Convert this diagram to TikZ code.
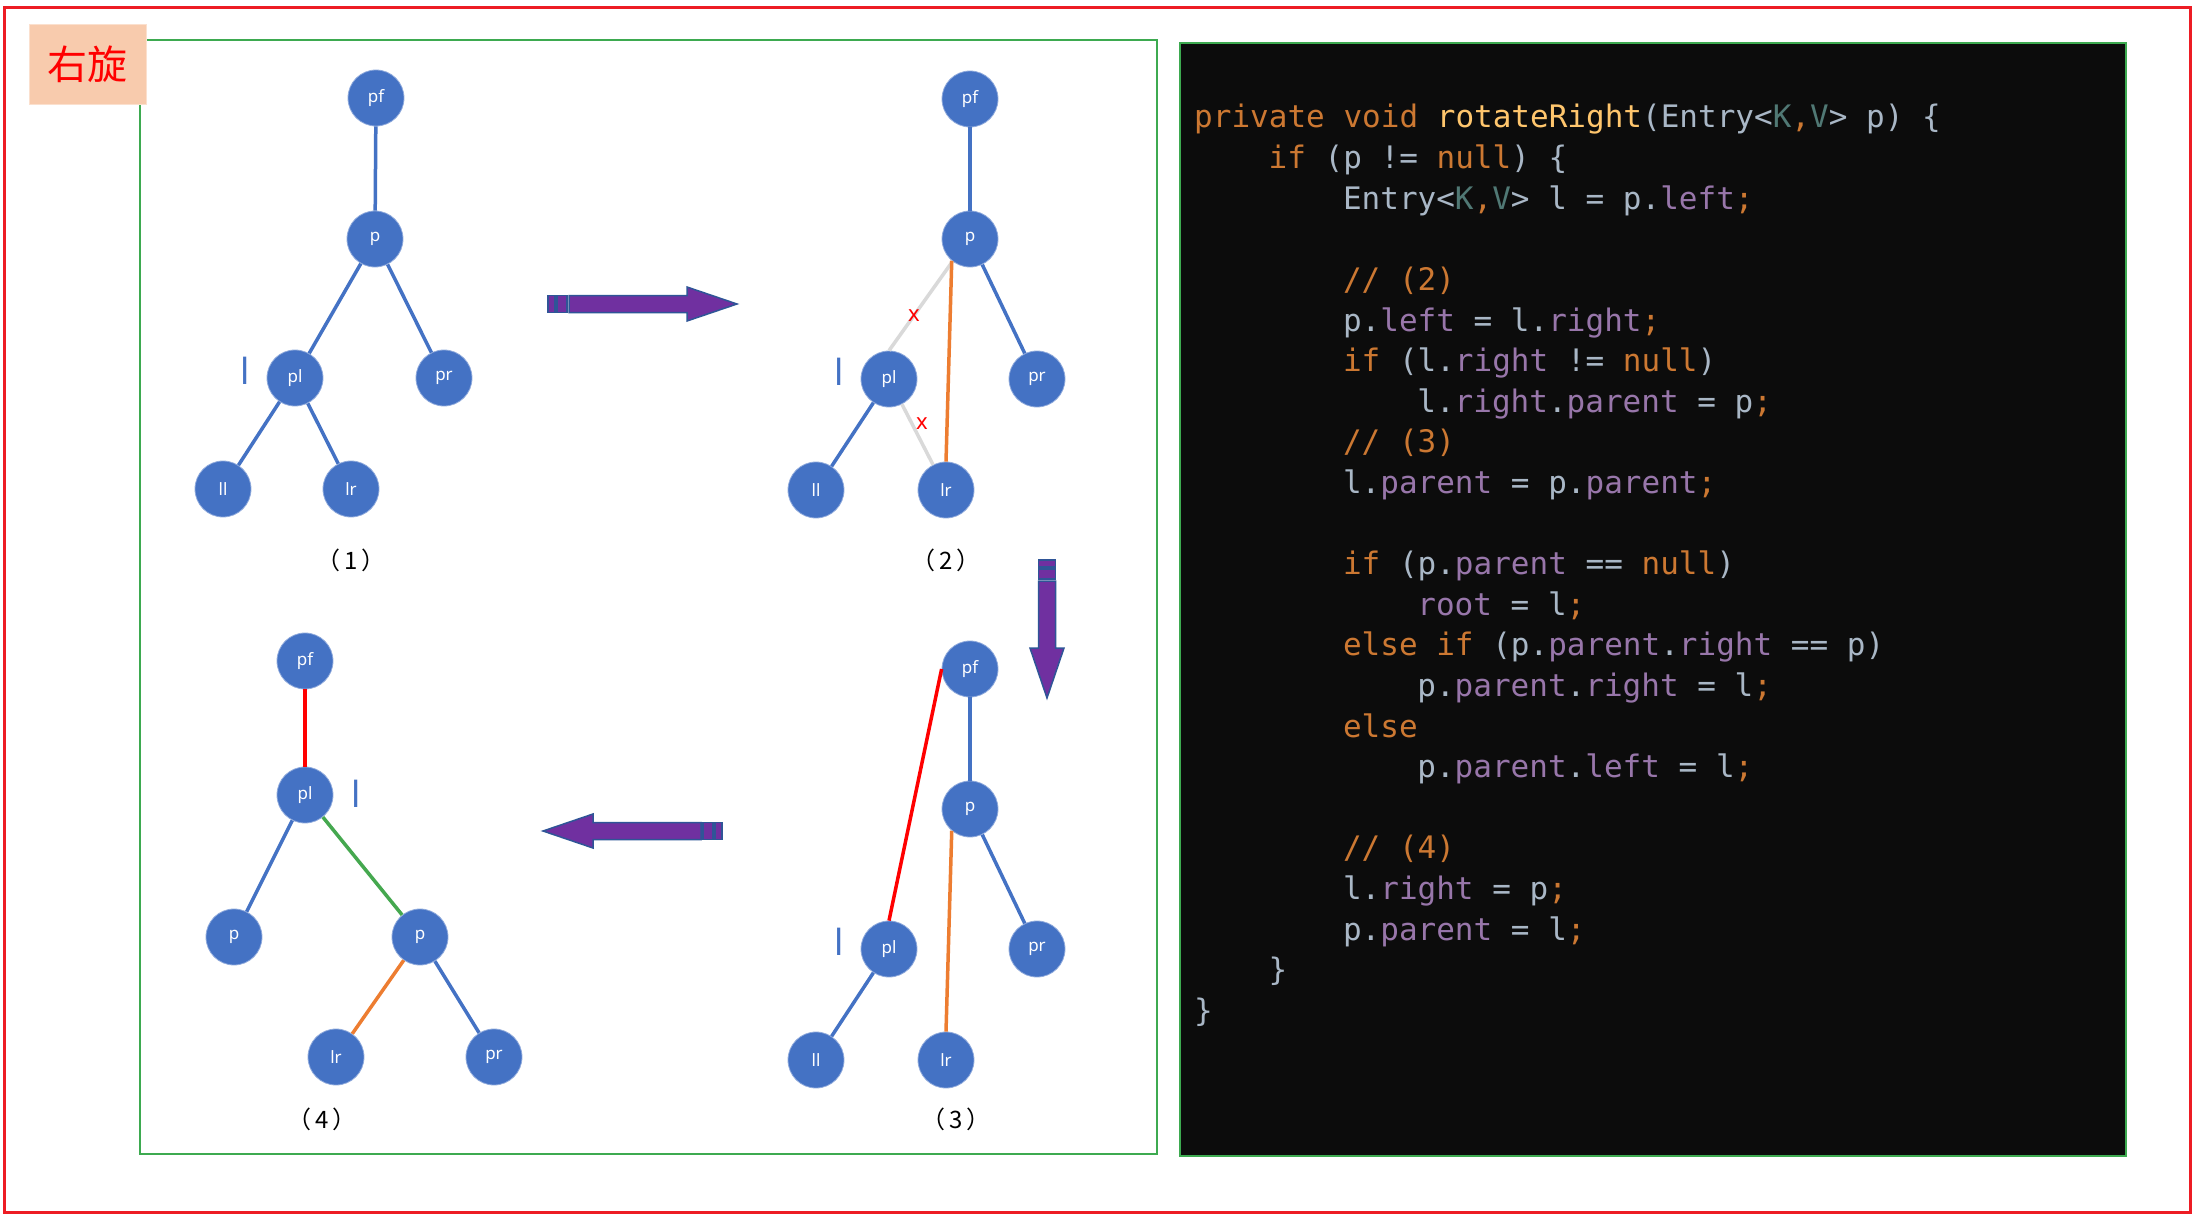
\documentclass[tikz,border=0pt]{standalone}
\usepackage{fontspec}
\setmainfont{Noto Sans}
\newfontfamily\cjk{Noto Sans CJK SC}
\newfontfamily\codefont{DejaVu Sans Mono}

\definecolor{nodeblue}{HTML}{4472C4}
\definecolor{cutgray}{HTML}{D9D9D9}
\definecolor{linkorange}{HTML}{ED7D31}
\definecolor{linkred}{HTML}{FF0000}
\definecolor{linkgreen}{HTML}{45A84F}
\definecolor{framered}{HTML}{ED1C24}
\definecolor{framegreen}{HTML}{3DAA50}
\definecolor{titlefill}{HTML}{F8CBAD}
\definecolor{arrowfill}{HTML}{7030A0}
\definecolor{arrowline}{HTML}{2F5597}
\definecolor{codebg}{HTML}{0C0C0C}
\definecolor{codetext}{HTML}{A9B7C6}
\definecolor{kwcol}{HTML}{CC7832}
\definecolor{mthcol}{HTML}{FFC66D}
\definecolor{fieldcol}{HTML}{9876AA}
\definecolor{gencol}{HTML}{507874}

\newcommand\kw[1]{\textcolor{kwcol}{#1}}
\newcommand\fd[1]{\textcolor{fieldcol}{#1}}
\newcommand\gn[1]{\textcolor{gencol}{#1}}
\newcommand\semi{\textcolor{kwcol}{;}}
\newcommand\steptext[1]{（\kern4pt#1\kern4pt）}
\newcommand\fatarrow[1]{%
  \filldraw[fill=arrowfill, draw=arrowline, line width=1.5pt] (0,-8.5) rectangle (7,8.5);
  \filldraw[fill=arrowfill, draw=arrowline, line width=1.5pt] (9,-8.5) rectangle (19,8.5);
  \filldraw[fill=arrowfill, draw=arrowline, line width=1.5pt, line join=miter]
    (21,-8.5) -- ({#1-50},-8.5) -- ({#1-50},-17) -- (#1,0) -- ({#1-50},17) -- ({#1-50},8.5) -- (21,8.5) -- cycle;
}

\tikzset{
  tnode/.style={circle, fill=nodeblue, draw=nodeblue!60!white, line width=0.8pt,
    minimum size=56pt, inner sep=0pt, text=white, font=\fontsize{17}{20}\selectfont},
  blueline/.style={draw=nodeblue, line width=3.5pt},
  grayline/.style={draw=cutgray, line width=3.5pt},
  orangeline/.style={draw=linkorange, line width=3.5pt},
  redline/.style={draw=linkred, line width=3.5pt},
  greenline/.style={draw=linkgreen, line width=3.5pt},
  lmark/.style={text=nodeblue, inner sep=0pt, font=\fontsize{36}{40}\selectfont},
  cutmark/.style={text=linkred, inner sep=0pt, font=\fontsize{22}{24}\selectfont},
  steplabel/.style={inner sep=0pt, font=\cjk\fontsize{24}{28}\selectfont},
  codeline/.style={anchor=base west, inner sep=0pt, text=codetext,
    font=\codefont\fontsize{31}{36}\selectfont},
}

\begin{document}
\begin{tikzpicture}[x=1pt,y=-1pt]
\useasboundingbox (0,0) rectangle (2195,1217);
\fill[white] (0,0) rectangle (2195,1217);

% frames
\draw[framered, line width=3pt] (4.5,7.5) rectangle (2190,1212);
\draw[framegreen, line width=1.5pt] (140,40) rectangle (1157,1154);
\node (title) [fill=titlefill, draw=titlefill!60!white, line width=0.8pt,
  minimum width=117pt, minimum height=80pt, text=linkred,
  font=\cjk\fontsize{40}{44}\selectfont] at (87.5,64) {右旋};

% (1)
\node[tnode] (pf1) at (376,98) {pf};
\node[tnode] (p1) at (375,239) {p};
\node[tnode] (pl1) at (295,378) {pl};
\node[tnode] (pr1) at (444,378) {pr};
\node[tnode] (ll1) at (223,489) {ll};
\node[tnode] (lr1) at (351,489) {lr};
\node[lmark] (l1) at (245,371) {l};
\node[steplabel] (step1) at (351,560) {\steptext{1}};
\draw[blueline] (pf1) -- (p1);
\draw[blueline] (p1) -- (pl1);
\draw[blueline] (p1) -- (pr1);
\draw[blueline] (pl1) -- (ll1);
\draw[blueline] (pl1) -- (lr1);

% (2)
\node[tnode] (pf2) at (970,99) {pf};
\node[tnode] (p2) at (970,239) {p};
\node[tnode] (pl2) at (889,379) {pl};
\node[tnode] (pr2) at (1037,379) {pr};
\node[tnode] (ll2) at (816,490) {ll};
\node[tnode] (lr2) at (946,490) {lr};
\node[lmark] (l2) at (839,372) {l};
\node[steplabel] (step2) at (946,560) {\steptext{2}};
\draw[blueline] (pf2) -- (p2);
\draw[grayline] (p2.232) -- (pl2.north);
\draw[blueline] (p2) -- (pr2);
\draw[blueline] (pl2) -- (ll2);
\draw[grayline] (pl2) -- (lr2);
\draw[orangeline] (p2.230) -- (lr2.north);
\node[cutmark] (x1) at (914,316) {x};
\node[cutmark] (x2) at (922,424) {x};

% (3)
\node[tnode] (pf3) at (970,669) {pf};
\node[tnode] (p3) at (970,809) {p};
\node[tnode] (pl3) at (889,949) {pl};
\node[tnode] (pr3) at (1037,949) {pr};
\node[tnode] (ll3) at (816,1060) {ll};
\node[tnode] (lr3) at (946,1060) {lr};
\node[lmark] (l3) at (839,942) {l};
\node[steplabel] (step3) at (956,1119) {\steptext{3}};
\draw[blueline] (pf3) -- (p3);
\draw[redline] (pf3.west) -- (pl3.north);
\draw[blueline] (p3) -- (pr3);
\draw[blueline] (pl3) -- (ll3);
\draw[orangeline] (p3.230) -- (lr3.north);

% (4)
\node[tnode] (pf4) at (305,661) {pf};
\node[tnode] (pl4) at (305,795) {pl};
\node[tnode] (pa4) at (234,937) {p};
\node[tnode] (pb4) at (420,937) {p};
\node[tnode] (lr4) at (336,1057) {lr};
\node[tnode] (pr4) at (494,1057) {pr};
\node[lmark] (l4) at (356,794) {l};
\node[steplabel] (step4) at (322,1119) {\steptext{4}};
\draw[redline] (pf4) -- (pl4);
\draw[blueline] (pl4) -- (pa4);
\draw[greenline] (pl4) -- (pb4);
\draw[orangeline] (pb4) -- (lr4);
\draw[blueline] (pb4) -- (pr4);

% arrows
\begin{scope}[shift={(548,304)}] \fatarrow{189} \end{scope}
\begin{scope}[shift={(1047,560)}, rotate=-90] \fatarrow{138} \end{scope}
\begin{scope}[shift={(722,831)}, rotate=180] \fatarrow{179} \end{scope}

% code
\filldraw[fill=codebg, draw=framegreen, line width=1.5pt] (1180,43) rectangle (2126,1156);
\node[codeline] (code1) at (1194,128) {\kw{private} \kw{void} \textcolor{mthcol}{rotateRight}(Entry<\gn{K}\kw{,}\gn{V}> p) \{};
\node[codeline] (code2) at (1268.4,168.6) {\kw{if} (p != \kw{null}) \{};
\node[codeline] (code3) at (1342.8,209.2) {Entry<\gn{K}\kw{,}\gn{V}> l = p.\fd{left}\semi};
\node[codeline] (code5) at (1342.8,290.4) {\kw{// (2)}};
\node[codeline] (code6) at (1342.8,331) {p.\fd{left} = l.\fd{right}\semi};
\node[codeline] (code7) at (1342.8,371.6) {\kw{if} (l.\fd{right} != \kw{null})};
\node[codeline] (code8) at (1417.2,412.2) {l.\fd{right}.\fd{parent} = p\semi};
\node[codeline] (code9) at (1342.8,452.8) {\kw{// (3)}};
\node[codeline] (code10) at (1342.8,493.4) {l.\fd{parent} = p.\fd{parent}\semi};
\node[codeline] (code12) at (1342.8,574.6) {\kw{if} (p.\fd{parent} == \kw{null})};
\node[codeline] (code13) at (1417.2,615.2) {\fd{root} = l\semi};
\node[codeline] (code14) at (1342.8,655.8) {\kw{else} \kw{if} (p.\fd{parent}.\fd{right} == p)};
\node[codeline] (code15) at (1417.2,696.4) {p.\fd{parent}.\fd{right} = l\semi};
\node[codeline] (code16) at (1342.8,737) {\kw{else}};
\node[codeline] (code17) at (1417.2,777.6) {p.\fd{parent}.\fd{left} = l\semi};
\node[codeline] (code19) at (1342.8,858.8) {\kw{// (4)}};
\node[codeline] (code20) at (1342.8,899.4) {l.\fd{right} = p\semi};
\node[codeline] (code21) at (1342.8,940) {p.\fd{parent} = l\semi};
\node[codeline] (code22) at (1268.4,980.6) {\}};
\node[codeline] (code23) at (1194,1021.2) {\}};
\end{tikzpicture}
\end{document}
